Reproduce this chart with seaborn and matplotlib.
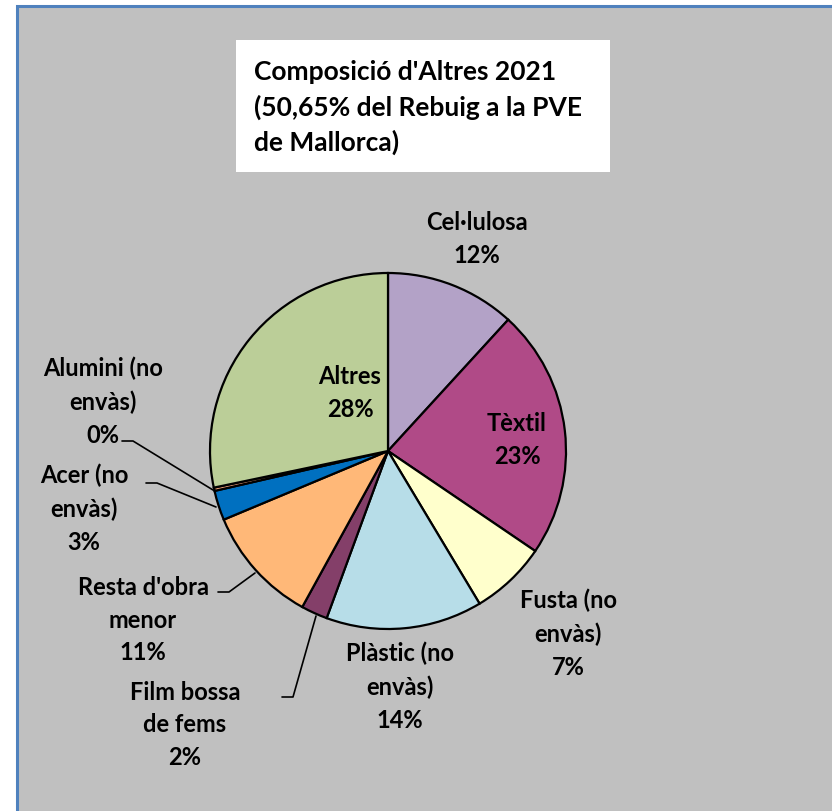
import matplotlib
matplotlib.use("Agg")
import matplotlib.pyplot as plt
from matplotlib.patches import Rectangle
import seaborn as sns

sns.set_theme(style="white")
plt.rcParams['font.family'] = ['Lato', 'DejaVu Sans']

# ---- data ----
categories = ["Cel·lulosa", "Tèxtil", "Fusta (no\nenvàs)", "Plàstic (no\nenvàs)",
              "Film bossa\nde fems", "Resta d'obra\nmenor", "Acer (no\nenvàs)",
              "Alumini (no\nenvàs)", "Altres"]
values = [11.8, 22.7, 6.9, 14.2, 2.4, 10.7, 2.7, 0.3, 28.3]
colors = ["#B3A2C7", "#B04A87", "#FFFFCC", "#B7DDE8", "#843F69",
          "#FFB878", "#0070C0", "#F2A07A", "#BBCE98"]
title_lines = ["Composició d'Altres 2021", "(50,65% del Rebuig a la PVE", "de Mallorca)"]

W, H = 832, 811
fig = plt.figure(figsize=(W / 100, H / 100), dpi=100)
fig.patch.set_facecolor("white")
ax = fig.add_axes([0, 0, 1, 1])
ax.set_xlim(0, W)
ax.set_ylim(0, H)
ax.axis("off")

def Y(py):
    return H - py

# background panel with blue border (left/top)
ax.add_patch(Rectangle((17, -20), W + 20, Y(6) + 20, facecolor="#C0C0C0",
                       edgecolor="#4F81BD", lw=2.2, zorder=0))
# title box
ax.add_patch(Rectangle((236, Y(172)), 374, 132, facecolor="white",
                       edgecolor="none", zorder=1))
for i, line in enumerate(title_lines):
    ax.text(254, Y(72 + 35 * i), line, fontsize=19, fontweight="bold",
            ha="left", va="center", color="black", zorder=2)

pal = sns.color_palette(colors)
wedges, _ = ax.pie(values, colors=pal, startangle=90, counterclock=False,
                   center=(388, Y(451)), radius=178,
                   wedgeprops=dict(edgecolor="black", linewidth=1.6),
                   frame=True)
ax.set_xlim(0, W)
ax.set_ylim(0, H)
ax.axis("off")

pcts = [f"{round(v):.0f}%" for v in values]
# label positions (pixel coords of text centre) and leader lines
label_pos = [(477, 239), (517, 440), (568, 634), (400, 687), (185, 725),
             (143, 620), (84, 509), (103, 402), (350, 393)]
for name, pct, (px, py) in zip(categories, pcts, label_pos):
    ax.text(px, Y(py), name + "\n" + pct, fontsize=17, fontweight="bold",
            ha="center", va="center", linespacing=1.52, color="black", zorder=3)

leaders = [
    [(282, 697), (293, 697), (316, 616)],
    [(218, 592), (229, 592), (255, 573)],
    [(146, 483), (157, 483), (216, 507)],
    [(122, 441), (133, 441), (213, 490)],
]
for pts in leaders:
    xs = [p[0] for p in pts]
    ys = [Y(p[1]) for p in pts]
    ax.plot(xs, ys, color="black", lw=1.2, zorder=3)

fig.savefig("out.png", dpi=100, facecolor=fig.get_facecolor())
